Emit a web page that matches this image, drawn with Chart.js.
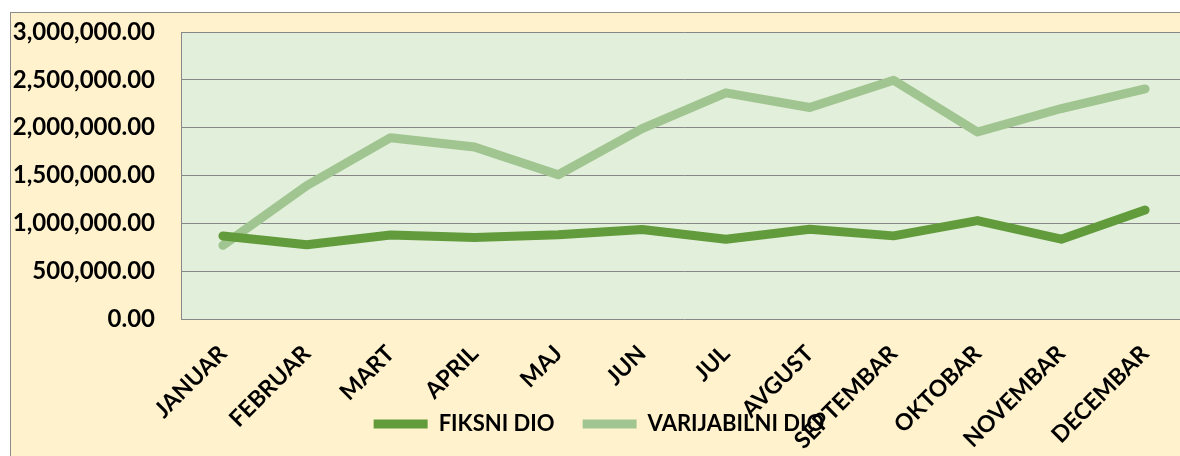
<!DOCTYPE html>
<html>
<head>
<meta charset="utf-8">
<script src="https://cdn.jsdelivr.net/npm/chart.js@4.4.1/dist/chart.umd.min.js"></script>
<style>
  html, body { margin: 0; padding: 0; background: #ffffff; overflow: hidden; width: 1180px; height: 456px; }
  #frame { position: absolute; left: 10px; top: 12px; width: 1190px; height: 445px; background: #FFF2CC; border: 1px solid #8c8c8c; }
  #frame canvas { position: absolute; left: 0; top: 0; }
</style>
</head>
<body>
<div id="frame"><canvas id="c" width="1190" height="445"></canvas></div>
<script>
const categories = ['JANUAR','FEBRUAR','MART','APRIL','MAJ','JUN','JUL','AVGUST','SEPTEMBAR','OKTOBAR','NOVEMBAR','DECEMBAR'];
const fiksniDio = [868000, 776000, 878000, 851000, 881000, 936000, 834000, 939000, 869000, 1029000, 834000, 1140000];
const varijabilniDio = [770000, 1395000, 1895000, 1797000, 1508000, 1990000, 2364000, 2211000, 2496000, 1955000, 2200000, 2405000];
const seriesNames = ['FIKSNI DIO', 'VARIJABILNI DIO'];
const yMin = 0, yMax = 3000000, yStep = 500000;

const FONT = 'Lato, "Liberation Sans", sans-serif';

const plotBg = {
  id: 'plotBg',
  beforeDraw(chart) {
    const {ctx, chartArea: a} = chart;
    ctx.save();
    ctx.fillStyle = '#E2EFDA';
    ctx.fillRect(a.left, a.top, a.right - a.left, a.bottom - a.top);
    ctx.restore();
  }
};

new Chart(document.getElementById('c'), {
  type: 'line',
  data: {
    labels: categories,
    datasets: [
      { label: seriesNames[0], data: fiksniDio, borderColor: '#629B3C', backgroundColor: '#629B3C',
        borderWidth: 9, pointRadius: 0, tension: 0, borderCapStyle: 'round', borderJoinStyle: 'round' },
      { label: seriesNames[1], data: varijabilniDio, borderColor: '#A1C591', backgroundColor: '#A1C591',
        borderWidth: 9, pointRadius: 0, tension: 0, borderCapStyle: 'round', borderJoinStyle: 'round' }
    ]
  },
  options: {
    responsive: false,
    animation: false,
    devicePixelRatio: 1,
    layout: { padding: { left: 0, top: 19, right: 14, bottom: 13 } },
    plugins: {
      tooltip: { enabled: false },
      legend: {
        position: 'bottom',
        align: 'center',
        labels: {
          usePointStyle: true,
          pointStyle: 'line',
          pointStyleWidth: 54,
          boxHeight: 9,
          padding: 28,
          color: '#000',
          font: { family: FONT, size: 22, weight: 'bold' }
        }
      }
    },
    scales: {
      x: {
        offset: true,
        grid: { display: false, drawTicks: false },
        border: { display: false },
        ticks: {
          autoSkip: false, maxRotation: 45, minRotation: 45, padding: 21, color: '#000',
          font: { family: FONT, size: 23, weight: 'bold' }
        },
        afterFit(scale) {
          scale.height = 66;
          scale.paddingLeft = 0; scale.paddingRight = 0;
          scale._computeLabelArea = () => undefined;
        }
      },
      y: {
        min: yMin, max: yMax,
        grid: { color: '#878787', lineWidth: 1, drawTicks: false },
        border: { display: true, color: '#878787', width: 1 },
        ticks: {
          stepSize: yStep, padding: 26, color: '#000',
          font: { family: FONT, size: 24, weight: 'bold' },
          callback: v => v.toLocaleString('en-US', { minimumFractionDigits: 2, maximumFractionDigits: 2 })
        },
        afterFit(scale) {
          scale.width = 170;
          scale.paddingTop = 0; scale.paddingBottom = 0;
        }
      }
    }
  },
  plugins: [plotBg]
});
</script>
</body>
</html>
